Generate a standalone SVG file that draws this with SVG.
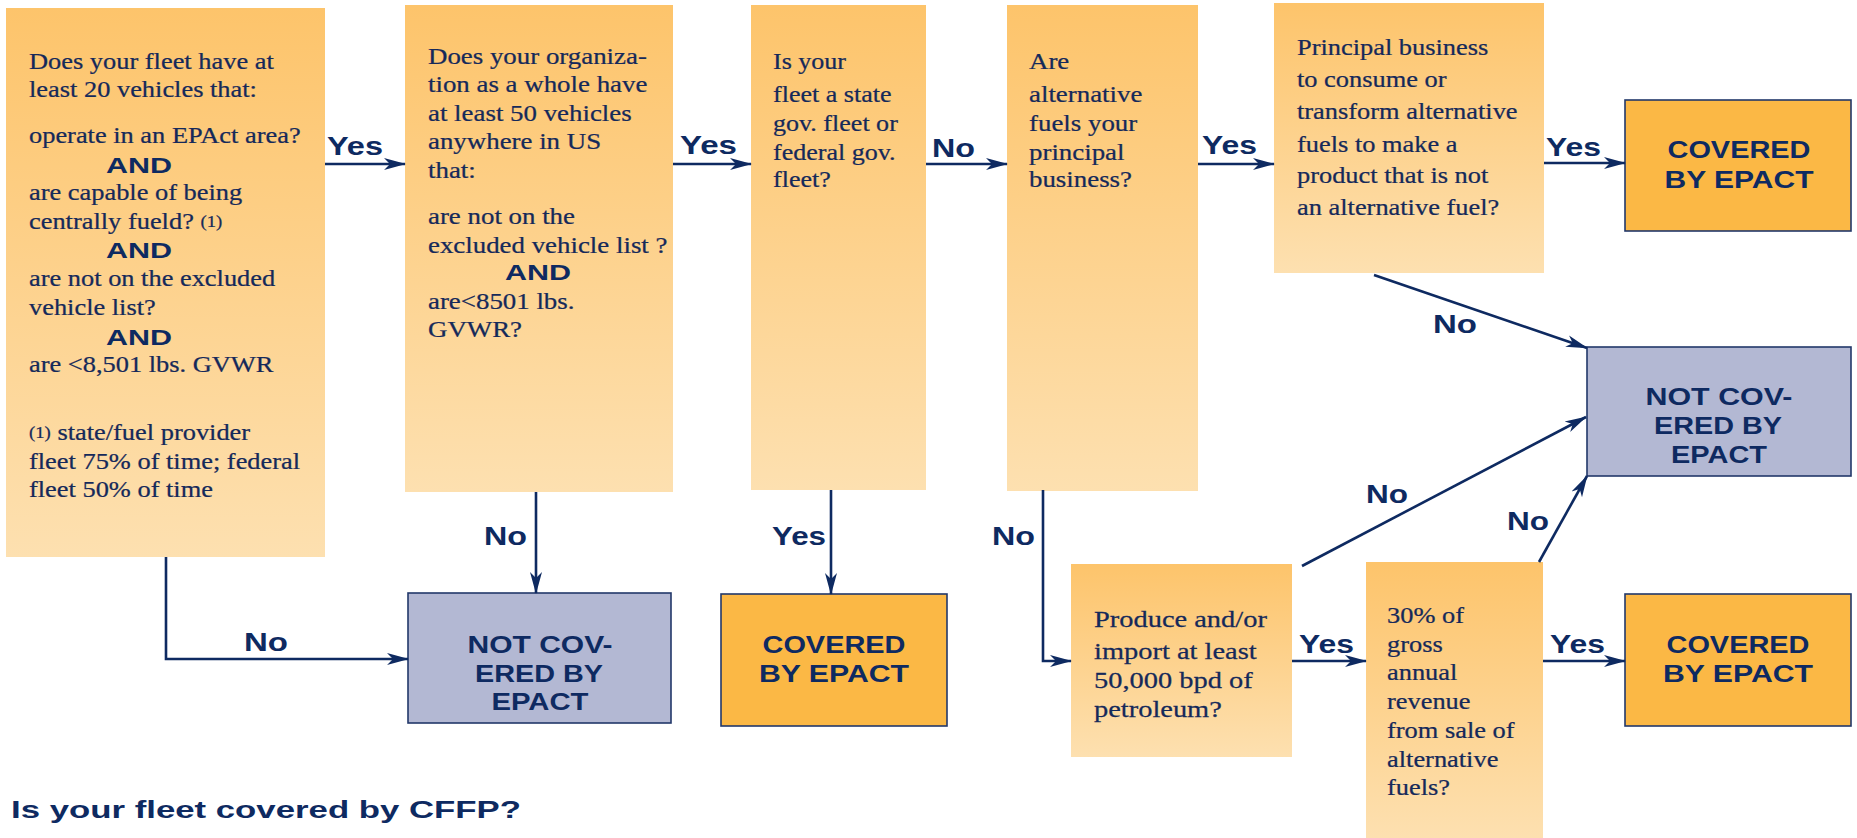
<svg xmlns="http://www.w3.org/2000/svg" width="1857" height="838" viewBox="0 0 1857 838">
<defs>
<linearGradient id="qg" x1="0" y1="0" x2="0" y2="1">
<stop offset="0" stop-color="#FDC46B"/>
<stop offset="1" stop-color="#FDE0B0"/>
</linearGradient>
<marker id="ah" markerUnits="userSpaceOnUse" markerWidth="22" markerHeight="14" refX="21" refY="7" orient="auto" viewBox="0 0 22 14">
<path d="M0,1 L22,7 L0,13 L6,7 z" fill="#0E2A61"/>
</marker>
<style>
.q{fill:url(#qg)}
.cov{fill:#FBB845;stroke:#22386A;stroke-width:1.6}
.nc{fill:#B3B8D3;stroke:#22386A;stroke-width:1.6}
.t{font-family:"Liberation Serif",serif;font-size:24px;fill:#15295A;stroke:#15295A;stroke-width:0.25}
.sm{font-size:17px}
.b{font-family:"Liberation Sans",Arial,sans-serif;font-weight:bold;fill:#0E2A61}
.lbl{font-size:26px}
.and{font-size:22px}
.res{font-size:23px;text-anchor:middle}
.c{fill:none;stroke:#0E2A61;stroke-width:2.6;marker-end:url(#ah)}
</style>
</defs>
<rect width="1857" height="838" fill="#FFFFFF"/>

<g id="q1">
<rect class="q" x="6" y="8" width="319" height="549"/>
<text class="t" transform="translate(29,0) scale(1.1,1)">
<tspan x="0" y="68.6">Does your fleet have at</tspan>
<tspan x="0" y="97">least 20 vehicles that:</tspan>
<tspan x="0" y="143">operate in an EPAct area?</tspan>
<tspan x="0" y="200">are capable of being</tspan>
<tspan x="0" y="228.6">centrally fueld? <tspan class="sm" dy="-2">(1)</tspan></tspan>
<tspan x="0" y="438" class="sm">(1)</tspan><tspan y="440"> state/fuel provider</tspan>
<tspan x="0" y="285.7">are not on the excluded</tspan>
<tspan x="0" y="315">vehicle list?</tspan>
<tspan x="0" y="372">are &lt;8,501 lbs. GVWR</tspan>
<tspan x="0" y="468.6">fleet 75% of time; federal</tspan>
<tspan x="0" y="497">fleet 50% of time</tspan>
</text>
<text class="b and" x="106" y="172.5" textLength="66" lengthAdjust="spacingAndGlyphs">AND</text>
<text class="b and" x="106" y="258" textLength="66" lengthAdjust="spacingAndGlyphs">AND</text>
<text class="b and" x="106" y="345" textLength="66" lengthAdjust="spacingAndGlyphs">AND</text>
</g>

<g id="q2">
<rect class="q" x="405" y="5" width="268" height="487"/>
<text class="t" transform="translate(428,0) scale(1.12,1)">
<tspan x="0" y="64">Does your organiza-</tspan>
<tspan x="0" y="92">tion as a whole have</tspan>
<tspan x="0" y="121">at least 50 vehicles</tspan>
<tspan x="0" y="149">anywhere in US</tspan>
<tspan x="0" y="178">that:</tspan>
<tspan x="0" y="224">are not on the</tspan>
<tspan x="0" y="253">excluded vehicle list ?</tspan>
<tspan x="0" y="309">are&lt;8501 lbs.</tspan>
<tspan x="0" y="337.5">GVWR?</tspan>
</text>
<text class="b and" x="505" y="280" textLength="66" lengthAdjust="spacingAndGlyphs">AND</text>
</g>

<g id="q3">
<rect class="q" x="751" y="5" width="175" height="485"/>
<text class="t" transform="translate(773,0) scale(1.085,1)">
<tspan x="0" y="68.6">Is your</tspan>
<tspan x="0" y="101.8">fleet a state</tspan>
<tspan x="0" y="131">gov. fleet or</tspan>
<tspan x="0" y="159.6">federal gov.</tspan>
<tspan x="0" y="187.5">fleet?</tspan>
</text>
</g>

<g id="q4">
<rect class="q" x="1007" y="5" width="191" height="486"/>
<text class="t" transform="translate(1029,0) scale(1.12,1)">
<tspan x="0" y="68.6">Are</tspan>
<tspan x="0" y="101.8">alternative</tspan>
<tspan x="0" y="131">fuels your</tspan>
<tspan x="0" y="159.6">principal</tspan>
<tspan x="0" y="187.5">business?</tspan>
</text>
</g>

<g id="q5">
<rect class="q" x="1274" y="3" width="270" height="270"/>
<text class="t" transform="translate(1297,0) scale(1.1,1)">
<tspan x="0" y="55">Principal business</tspan>
<tspan x="0" y="87">to consume or</tspan>
<tspan x="0" y="119">transform alternative</tspan>
<tspan x="0" y="152">fuels to make a</tspan>
<tspan x="0" y="183">product that is not</tspan>
<tspan x="0" y="215">an alternative fuel?</tspan>
</text>
</g>

<g id="q6">
<rect class="q" x="1071" y="564" width="221" height="193"/>
<text class="t" transform="translate(1094,0) scale(1.185,1)">
<tspan x="0" y="626.7">Produce and/or</tspan>
<tspan x="0" y="659.3">import at least</tspan>
<tspan x="0" y="688.3">50,000 bpd of</tspan>
<tspan x="0" y="716.7">petroleum?</tspan>
</text>
</g>

<g id="q7">
<rect class="q" x="1366" y="562" width="177" height="276"/>
<text class="t" transform="translate(1387,0) scale(1.1,1)">
<tspan x="0" y="623">30% of</tspan>
<tspan x="0" y="652">gross</tspan>
<tspan x="0" y="680">annual</tspan>
<tspan x="0" y="709">revenue</tspan>
<tspan x="0" y="738">from sale of</tspan>
<tspan x="0" y="767">alternative</tspan>
<tspan x="0" y="795">fuels?</tspan>
</text>
</g>

<g id="covered1">
<rect class="cov" x="721" y="594" width="226" height="132"/>
<text class="b res" x="834" y="653" textLength="143" lengthAdjust="spacingAndGlyphs">COVERED</text>
<text class="b res" x="834" y="682" textLength="150" lengthAdjust="spacingAndGlyphs">BY EPACT</text>
</g>

<g id="covered2">
<rect class="cov" x="1625" y="100" width="226" height="131"/>
<text class="b res" x="1739" y="158" textLength="143" lengthAdjust="spacingAndGlyphs">COVERED</text>
<text class="b res" x="1739" y="188" textLength="149" lengthAdjust="spacingAndGlyphs">BY EPACT</text>
</g>

<g id="covered3">
<rect class="cov" x="1625" y="594" width="226" height="132"/>
<text class="b res" x="1738" y="653" textLength="143" lengthAdjust="spacingAndGlyphs">COVERED</text>
<text class="b res" x="1738" y="682" textLength="150" lengthAdjust="spacingAndGlyphs">BY EPACT</text>
</g>

<g id="notcovered1">
<rect class="nc" x="408" y="593" width="263" height="130"/>
<text class="b res" x="540" y="653" textLength="145" lengthAdjust="spacingAndGlyphs">NOT COV-</text>
<text class="b res" x="539" y="682" textLength="128" lengthAdjust="spacingAndGlyphs">ERED BY</text>
<text class="b res" x="540" y="710" textLength="97" lengthAdjust="spacingAndGlyphs">EPACT</text>
</g>

<g id="notcovered2">
<rect class="nc" x="1587" y="347" width="264" height="129"/>
<text class="b res" x="1719" y="405" textLength="147" lengthAdjust="spacingAndGlyphs">NOT COV-</text>
<text class="b res" x="1718" y="434" textLength="128" lengthAdjust="spacingAndGlyphs">ERED BY</text>
<text class="b res" x="1719" y="463" textLength="96" lengthAdjust="spacingAndGlyphs">EPACT</text>
</g>

<g id="connectors">
<path class="c" d="M325,164 L405,164"/>
<path class="c" d="M673,164 L751,164"/>
<path class="c" d="M926,164 L1007,164"/>
<path class="c" d="M1198,164 L1274,164"/>
<path class="c" d="M1544,163 L1625,163"/>
<path class="c" d="M1374,275 L1587,348"/>
<path class="c" d="M536,492 L536,593"/>
<path class="c" d="M831,490 L831,594"/>
<path class="c" d="M166,557 L166,659 L408,659"/>
<path class="c" d="M1043,490 L1043,661 L1071,661"/>
<path class="c" d="M1292,661 L1366,661"/>
<path class="c" d="M1543,661 L1625,661"/>
<path class="c" d="M1302,566 L1586,417"/>
<path class="c" d="M1539,562 L1587,476"/>
<text class="b lbl" x="327" y="155" textLength="56" lengthAdjust="spacingAndGlyphs">Yes</text>
<text class="b lbl" x="680" y="154" textLength="57" lengthAdjust="spacingAndGlyphs">Yes</text>
<text class="b lbl" x="932" y="157" textLength="43" lengthAdjust="spacingAndGlyphs">No</text>
<text class="b lbl" x="1202" y="154" textLength="55" lengthAdjust="spacingAndGlyphs">Yes</text>
<text class="b lbl" x="1546" y="156" textLength="55" lengthAdjust="spacingAndGlyphs">Yes</text>
<text class="b lbl" x="1433" y="333" textLength="44" lengthAdjust="spacingAndGlyphs">No</text>
<text class="b lbl" x="484" y="545" textLength="43" lengthAdjust="spacingAndGlyphs">No</text>
<text class="b lbl" x="772" y="545" textLength="54" lengthAdjust="spacingAndGlyphs">Yes</text>
<text class="b lbl" x="244" y="651" textLength="44" lengthAdjust="spacingAndGlyphs">No</text>
<text class="b lbl" x="992" y="545" textLength="43" lengthAdjust="spacingAndGlyphs">No</text>
<text class="b lbl" x="1299" y="653" textLength="55" lengthAdjust="spacingAndGlyphs">Yes</text>
<text class="b lbl" x="1550" y="653" textLength="55" lengthAdjust="spacingAndGlyphs">Yes</text>
<text class="b lbl" x="1366" y="503" textLength="42" lengthAdjust="spacingAndGlyphs">No</text>
<text class="b lbl" x="1507" y="530" textLength="42" lengthAdjust="spacingAndGlyphs">No</text>
</g>

<text id="title" class="b" x="11" y="818" style="font-size:24px" textLength="510" lengthAdjust="spacingAndGlyphs">Is your fleet covered by CFFP?</text>
</svg>
